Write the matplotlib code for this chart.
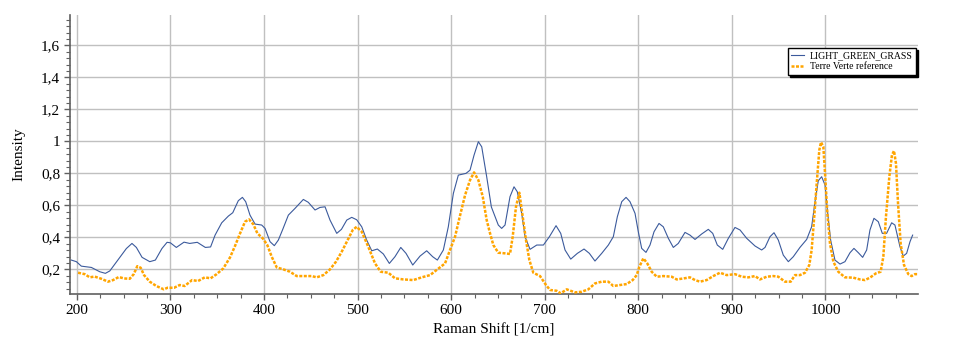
import matplotlib
matplotlib.use("Agg")
import matplotlib.pyplot as plt
from matplotlib.ticker import MultipleLocator, FuncFormatter

plt.rcParams["font.family"] = ["Liberation Serif", "DejaVu Serif"]

# LIGHT_GREEN_GRASS spectrum
grass_shift = [194.2, 199.6, 204.9, 215.6, 224.6, 230.6, 235.3, 246.0, 253.0, 259.0,
               263.7, 269.8, 278.0, 284.0, 291.0, 296.5, 300.0, 306.4, 314.6, 320.7,
               328.8, 337.4, 343.0, 347.8, 354.9, 362.0, 366.7, 372.6, 377.0, 380.5,
               385.1, 390.5, 397.6, 401.2, 406.5, 411.1, 415.4, 420.1, 426.1, 433.2,
               442.1, 447.4, 454.6, 459.9, 465.3, 470.6, 477.8, 482.8, 488.5, 493.8,
               499.1, 504.5, 509.8, 515.2, 521.2, 527.6, 534.0, 540.0, 546.2, 551.8,
               559.0, 566.8, 573.9, 580.3, 585.3, 591.7, 597.0, 602.4, 607.7, 615.9,
               620.2, 624.5, 629.1, 632.7, 638.0, 643.0, 647.0, 650.4, 654.0, 657.6,
               662.9, 667.2, 670.7, 675.4, 679.0, 684.3, 691.5, 698.6, 705.0, 712.1,
               717.1, 721.7, 727.8, 734.9, 742.0, 747.7, 753.7, 760.9, 768.0, 773.3,
               777.6, 782.3, 786.9, 791.1, 796.5, 800.0, 803.6, 808.2, 812.5, 816.8,
               822.1, 826.7, 832.1, 837.4, 842.7, 849.9, 855.2, 860.6, 867.7, 874.8,
               879.5, 884.4, 890.2, 896.2, 903.3, 908.7, 915.8, 924.7, 931.8, 935.4,
               940.7, 945.0, 949.6, 954.9, 960.3, 965.6, 972.7, 979.9, 985.2, 988.8,
               992.3, 995.9, 999.5, 1002.0, 1005.5, 1010.1, 1015.5, 1020.8, 1026.2, 1030.4,
               1035.1, 1039.7, 1044.0, 1047.5, 1051.8, 1056.4, 1060.7, 1065.3, 1070.7, 1074.2,
               1079.6, 1083.1, 1086.7, 1090.3, 1093.1]
grass_int = [0.258, 0.248, 0.220, 0.212, 0.185, 0.175, 0.190, 0.275, 0.330, 0.362,
             0.337, 0.275, 0.248, 0.258, 0.330, 0.369, 0.366, 0.337, 0.370, 0.362,
             0.369, 0.337, 0.340, 0.414, 0.491, 0.533, 0.554, 0.629, 0.650, 0.623,
             0.539, 0.483, 0.477, 0.456, 0.373, 0.348, 0.383, 0.450, 0.539, 0.581,
             0.637, 0.619, 0.571, 0.587, 0.591, 0.508, 0.425, 0.450, 0.508, 0.525,
             0.510, 0.466, 0.383, 0.316, 0.327, 0.296, 0.237, 0.279, 0.337, 0.300,
             0.227, 0.283, 0.316, 0.279, 0.258, 0.321, 0.466, 0.675, 0.789, 0.800,
             0.820, 0.914, 0.998, 0.966, 0.779, 0.590, 0.529, 0.477, 0.456, 0.477,
             0.654, 0.716, 0.685, 0.550, 0.404, 0.325, 0.352, 0.352, 0.404, 0.473,
             0.425, 0.321, 0.264, 0.300, 0.327, 0.300, 0.252, 0.300, 0.352, 0.404,
             0.529, 0.623, 0.650, 0.623, 0.550, 0.435, 0.331, 0.306, 0.352, 0.435,
             0.487, 0.466, 0.394, 0.337, 0.362, 0.431, 0.414, 0.387, 0.421, 0.450,
             0.425, 0.352, 0.325, 0.394, 0.462, 0.446, 0.394, 0.346, 0.321, 0.337,
             0.404, 0.429, 0.383, 0.289, 0.248, 0.279, 0.337, 0.387, 0.466, 0.623,
             0.754, 0.779, 0.727, 0.571, 0.383, 0.258, 0.233, 0.248, 0.304, 0.331,
             0.304, 0.275, 0.321, 0.446, 0.519, 0.498, 0.425, 0.425, 0.491, 0.477,
             0.341, 0.283, 0.300, 0.373, 0.414]

# Terre Verte reference spectrum
ref_shift = [201.4, 208.5, 213.9, 219.0, 226.3, 233.4, 238.8, 244.9, 250.7, 256.6,
             260.9, 264.7, 268.3, 271.9, 278.0, 285.0, 293.0, 297.0, 304.0, 310.0,
             315.3, 323.2, 329.6, 336.8, 343.0, 349.5, 356.6, 363.8, 369.1, 374.5,
             379.8, 384.1, 388.7, 393.0, 398.7, 403.6, 408.3, 413.7, 420.7, 427.9,
             435.0, 443.9, 451.0, 456.4, 463.5, 470.6, 477.0, 483.1, 489.1, 494.9,
             499.1, 504.5, 511.5, 518.7, 524.8, 532.9, 540.0, 549.0, 559.6, 568.6,
             577.5, 585.3, 593.5, 598.8, 604.2, 608.8, 614.9, 620.2, 624.5, 629.1,
             633.8, 638.0, 641.6, 645.1, 650.4, 657.6, 662.9, 665.8, 669.3, 672.9,
             676.5, 680.0, 683.6, 687.8, 695.0, 701.4, 705.7, 712.8, 717.1, 723.5,
             732.4, 739.5, 746.6, 753.7, 760.9, 768.0, 773.3, 780.4, 787.6, 794.0,
             798.3, 801.1, 805.4, 809.6, 814.3, 819.7, 826.7, 835.7, 841.0, 848.1,
             855.2, 860.6, 865.9, 873.0, 880.1, 887.3, 894.4, 903.3, 910.5, 917.6,
             924.7, 930.0, 937.2, 944.3, 949.6, 956.7, 962.8, 967.4, 972.7, 978.1,
             982.7, 985.2, 987.7, 990.6, 993.4, 995.2, 997.7, 999.5, 1002.0, 1004.8,
             1008.4, 1013.7, 1020.8, 1029.7, 1036.8, 1042.2, 1047.5, 1053.9, 1058.9, 1061.8,
             1064.6, 1068.2, 1071.0, 1073.2, 1075.3, 1077.5, 1080.3, 1083.9, 1088.5, 1092.0,
             1095.6, 1098.5]
ref_int = [0.179, 0.170, 0.150, 0.155, 0.141, 0.123, 0.133, 0.152, 0.143, 0.141,
           0.170, 0.220, 0.210, 0.164, 0.123, 0.096, 0.075, 0.085, 0.085, 0.102,
           0.096, 0.133, 0.127, 0.150, 0.144, 0.170, 0.206, 0.275, 0.346, 0.425,
           0.498, 0.512, 0.481, 0.425, 0.394, 0.352, 0.279, 0.212, 0.200, 0.185,
           0.158, 0.158, 0.158, 0.150, 0.164, 0.200, 0.248, 0.310, 0.379, 0.446,
           0.466, 0.435, 0.341, 0.237, 0.185, 0.179, 0.144, 0.137, 0.133, 0.150,
           0.164, 0.200, 0.237, 0.321, 0.404, 0.519, 0.664, 0.758, 0.806, 0.758,
           0.654, 0.508, 0.425, 0.352, 0.304, 0.300, 0.296, 0.404, 0.591, 0.679,
           0.529, 0.383, 0.258, 0.179, 0.158, 0.102, 0.071, 0.066, 0.050, 0.075,
           0.056, 0.060, 0.075, 0.112, 0.123, 0.123, 0.096, 0.102, 0.108, 0.133,
           0.164, 0.216, 0.269, 0.237, 0.185, 0.154, 0.158, 0.154, 0.137, 0.143,
           0.150, 0.133, 0.123, 0.133, 0.158, 0.179, 0.164, 0.170, 0.154, 0.150,
           0.158, 0.137, 0.154, 0.158, 0.154, 0.123, 0.123, 0.164, 0.164, 0.179,
           0.227, 0.321, 0.508, 0.737, 0.946, 0.995, 0.966, 0.800, 0.550, 0.362,
           0.248, 0.185, 0.150, 0.148, 0.137, 0.133, 0.148, 0.175, 0.185, 0.279,
           0.529, 0.779, 0.914, 0.941, 0.862, 0.612, 0.362, 0.227, 0.170, 0.158,
           0.170, 0.170]


def comma_fmt(v, pos):
    return f"{v:g}".replace(".", ",")


fig = plt.figure(figsize=(9.67, 3.56), dpi=100)
ax = fig.add_axes([0.0724, 0.1742, 0.8766, 0.7837])

ax.plot(grass_shift, grass_int, color="#3b5a9c", lw=0.8,
        label="LIGHT_GREEN_GRASS", zorder=3)
ax.plot(ref_shift, ref_int, color="#ffa500", lw=1.8, dashes=(1.2, 0.6),
        label="Terre Verte reference", zorder=3)

ax.set_xlim(192.8, 1098.5)
ax.set_ylim(0.046, 1.79)

ax.xaxis.set_major_locator(MultipleLocator(100))
ax.xaxis.set_minor_locator(MultipleLocator(25))
ax.yaxis.set_major_locator(MultipleLocator(0.2))
ax.yaxis.set_minor_locator(MultipleLocator(0.04))
ax.yaxis.set_major_formatter(FuncFormatter(comma_fmt))

ax.grid(True, which="major", color="#c0c0c0", lw=1.0, zorder=0)
ax.set_axisbelow(True)

for side in ["top", "right"]:
    ax.spines[side].set_visible(False)
for side in ["left", "bottom"]:
    ax.spines[side].set_color("#606060")
    ax.spines[side].set_linewidth(1.2)

ax.tick_params(which="major", direction="out", length=4, width=1,
               color="#606060", labelsize=11, pad=3)
ax.tick_params(which="minor", direction="out", length=3, width=0.8,
               color="#606060")

ax.set_xlabel("Raman Shift [1/cm]", fontsize=11)
ax.set_ylabel("Intensity", fontsize=11)
ax.xaxis.set_label_coords(0.5, -0.103)
ax.yaxis.set_label_coords(-0.053, 0.5)

leg = ax.legend(loc="upper right", bbox_to_anchor=(0.998, 0.883),
                borderaxespad=0, fontsize=7, fancybox=False,
                shadow={"color": "black", "alpha": 1.0, "ox": 1.5, "oy": -1.5},
                handlelength=1.3, handletextpad=0.6, borderpad=0.35,
                labelspacing=0.25)
leg.get_frame().set_edgecolor("black")
leg.get_frame().set_linewidth(1.0)

fig.savefig("out.png", dpi=100)
